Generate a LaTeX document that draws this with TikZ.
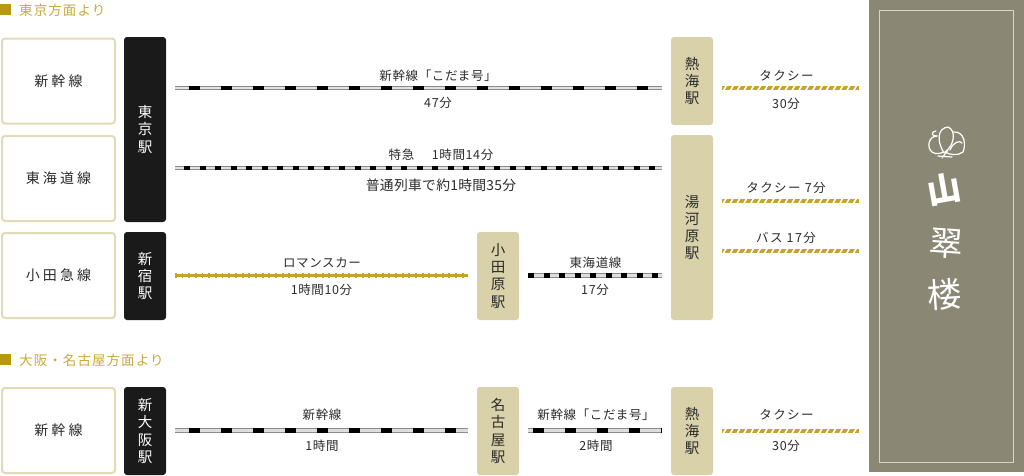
\documentclass[tikz,border=0pt]{standalone}
\usepackage{fontspec}
\setmainfont{Noto Sans CJK JP}
\usetikzlibrary{decorations.markings}
\definecolor{hgold}{HTML}{B8980F}
\definecolor{htext}{HTML}{C9A93C}
\definecolor{lineborder}{HTML}{E2DBB9}
\definecolor{tanbox}{HTML}{D9D1A9}
\definecolor{blackbox}{HTML}{1A1A1A}
\definecolor{panel}{HTML}{8A8775}
\definecolor{railgold}{HTML}{C5A32D}
\definecolor{inkc}{HTML}{2B2B2B}
\tikzset{
    fromto/.style={draw=lineborder,line width=2,fill=white,rounded corners=3,minimum width=113,minimum height=85,text=inkc,font=\fontsize{14}{17}\selectfont\addfontfeature{LetterSpace=22}},
    station/.style={rounded corners=3,minimum width=42,align=center,font=\fontsize{14.5}{17.2}\selectfont},
    blackst/.style={station,fill=blackbox,text=white},
    tanst/.style={station,fill=tanbox,text=inkc},
    heading/.style={anchor=west,inner sep=0,text=htext,font=\fontsize{13.5}{15}\selectfont\addfontfeature{LetterSpace=8}},
    info/.style={inner sep=0,text=inkc,font=\fontsize{12.5}{15}\selectfont\addfontfeature{LetterSpace=5}},
    wideinfo/.style={info,font=\fontsize{12.5}{15}\selectfont\addfontfeature{LetterSpace=11}},
    railbase/.style={draw=black!45,line width=4.4,postaction={draw=black!13,line width=2.6}},
    shinrail/.style={railbase,postaction={draw=black,line width=4.6,dash pattern=on 11 off 21,dash phase=#1}},
    shinrail/.default=18,
    exprail/.style={railbase,postaction={draw=black,line width=4.6,dash pattern=on 6 off 9.5,dash phase=#1}},
    exprail/.default=6.5,
    romancerail/.style={draw=railgold,line width=2.2,postaction={draw=railgold,line width=5,dash pattern=on 1.8 off 4.87}},
    taxirail/.style={draw=railgold,line width=4,postaction={decorate,decoration={markings,mark=between positions 3pt and 136pt step 6.85pt with {\draw[white,line width=1.6] (-1.5pt,-2.6pt)--(1.5pt,2.6pt);}}}},
}
\begin{document}
\begin{tikzpicture}[x=1pt,y=-1pt]
    \useasboundingbox (0,0) rectangle (1024,475);
    % headings
    \fill[hgold] (0,4) rectangle (11,15);
    \node[heading] (headtokyo) at (19,10.5) {東京方面より};
    \fill[hgold] (0,354) rectangle (11,365);
    \node[heading] (headosaka) at (19,360.5) {大阪・名古屋方面より};
    % left boxes
    \foreach \name/\y/\t in {fshin/81/新幹線,ftokai/178.5/東海道線,fodakyu/275.5/小田急線,fosaka/430.5/新幹線}
        \node[fromto] (\name) at (58.5,\y) {\raisebox{1.5pt}{\t}};
    % stations
    \node[blackst,minimum height=185] (tokyo) at (145,129.5) {東\\京\\駅};
    \node[blackst,minimum height=88] (shinjuku) at (145,276) {新\\宿\\駅};
    \node[blackst,minimum height=88] (osaka) at (145,431) {新\\大\\阪\\駅};
    \node[tanst,minimum height=88] (atami) at (692,81) {熱\\海\\駅};
    \node[tanst,minimum height=185] (yugawara) at (692,227.5) {湯\\河\\原\\駅};
    \node[tanst,minimum height=88] (odawara) at (498,276) {小\\田\\原\\駅};
    \node[tanst,minimum height=88] (nagoya) at (498,431) {名\\古\\屋\\駅};
    \node[tanst,minimum height=88] (atamib) at (692,431) {熱\\海\\駅};
    % rails
    \foreach \name/\xa/\xb/\y in {ra/175/662/88,rb/175/662/168,rc/175/468/275.5,rd/528/662/275.5,re/722/859/88,rf/722/859/200.5,rg/722/859/250.5,rh/175/468/430.5,ri/528/662/430.5,rj/722/859/430.5}{
        \coordinate (\name1) at (\xa,\y);
        \coordinate (\name2) at (\xb,\y);
    }
    \draw[shinrail] (ra1)--(ra2);
    \draw[exprail] (rb1)--(rb2);
    \draw[romancerail] (rc1)--(rc2);
    \draw[exprail=0] (rd1)--(rd2);
    \draw[shinrail] (rh1)--(rh2);
    \draw[shinrail=27] (ri1)--(ri2);
    \foreach \name in {re,rf,rg,rj}
        \draw[taxirail] (\name1)--(\name2);
    % labels on the rails
    \node[info] (la) at (438,75.5) {新幹線「こだま号」};
    \node[info] (lb) at (438,102.5) {47分};
    \node[info] (lc) at (441,155) {特急\hspace{1.4em}1時間14分};
    \node[info,font=\fontsize{13.8}{15}\selectfont\addfontfeature{LetterSpace=2}] (ld) at (441,185.5) {普通列車で約1時間35分};
    \node[info] (le) at (322,262.5) {ロマンスカー};
    \node[info] (lf) at (321.5,290) {1時間10分};
    \node[info] (lg) at (595.5,262.5) {東海道線};
    \node[info] (lh) at (595,290) {17分};
    \node[info] (li) at (322,415) {新幹線};
    \node[info] (lj) at (322,446) {1時間};
    \node[info] (lk) at (596,415) {新幹線「こだま号」};
    \node[info] (ll) at (596,446) {2時間};
    \node[wideinfo] (lm) at (786.5,75.5) {タクシー};
    \node[info] (ln) at (786,104) {30分};
    \node[wideinfo] (lo) at (786,187.5) {タクシー 7分};
    \node[wideinfo] (lp) at (786,238) {バス 17分};
    \node[wideinfo] (lq) at (786.5,415) {タクシー};
    \node[info] (lr) at (786,446) {30分};
    % right panel
    \fill[panel] (869,0) rectangle (1024,472);
    \draw[white!65!panel,line width=.6] (879,10) rectangle (1013,462);
    \begin{scope}[draw=white,line width=1.2,line cap=round]
        \draw (944,153) .. controls (936,140) and (938,128) .. (948,127) .. controls (956,130) and (955,145) .. (945,152);
        \draw (953,132) .. controls (965,131) and (966,145) .. (963,152) .. controls (958,156) and (950,155) .. (945,152);
        \draw (937,136) .. controls (929,136) and (926,147) .. (932,152) .. controls (936,155) and (941,153) .. (944,152);
        \draw (950,150) .. controls (953,142) and (960,140) .. (962,143);
        \draw (937,136) .. controls (931,137) and (931,131) .. (936,131);
        \draw (938,156) -- (952,157);
        \draw (942,158) -- (948,150);
    \end{scope}
    \node[text=white,font=\fontsize{34}{36}\selectfont\bfseries,inner sep=0,rotate=10] (logoa) at (944,189) {山};
    \node[text=white,font=\fontsize{34}{36}\selectfont,inner sep=0,rotate=-4] (logob) at (946,244) {翠};
    \node[text=white,font=\fontsize{34}{36}\selectfont,inner sep=0,rotate=4] (logoc) at (945,294) {楼};
\end{tikzpicture}
\end{document}
